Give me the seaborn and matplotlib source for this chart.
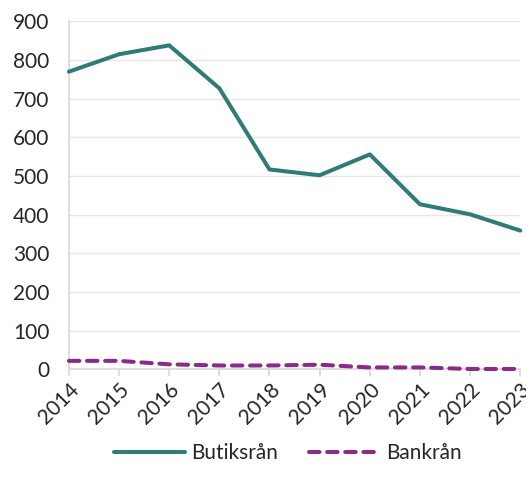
import matplotlib
matplotlib.use("Agg")
import matplotlib.pyplot as plt
import seaborn as sns
import pandas as pd

years = [2014, 2015, 2016, 2017, 2018, 2019, 2020, 2021, 2022, 2023]
butiksran = [770, 815, 838, 727, 517, 502, 556, 427, 401, 359]
bankran = [22, 22, 13, 10, 10, 12, 5, 5, 1, 1]

df = pd.DataFrame({
    "year": [str(y) for y in years] * 2,
    "antal": butiksran + bankran,
    "typ": ["Butiksrån"] * len(years) + ["Bankrån"] * len(years),
})

sns.set_theme(style="white")
plt.rcParams["font.family"] = ["Lato", "DejaVu Sans"]

fig = plt.figure(figsize=(5.26, 4.86), dpi=100)
ax = fig.add_axes([0.131, 0.240, 0.858, 0.716])

sns.lineplot(data=df, x="year", y="antal", hue="typ", style="typ",
             palette={"Butiksrån": "#2e7b78", "Bankrån": "#8a2b8a"},
             dashes={"Butiksrån": "", "Bankrån": (2.6, 1.9)},
             linewidth=2.9, ax=ax, sort=False)
for ln in ax.lines:
    ln.set_clip_on(False)
    ln.set_zorder(5)
    ln.set_dash_capstyle("round")

ax.set_ylim(0, 900)
ax.set_xlim(0, len(years) - 1)
ax.set_yticks(range(0, 901, 100))
ax.yaxis.grid(True, color="#e6e6e6", linewidth=1)
ax.set_axisbelow(True)
for s in ["top", "right"]:
    ax.spines[s].set_visible(False)
ax.spines["left"].set_color("#d9d9d9")
ax.spines["bottom"].set_color("#d9d9d9")
ax.tick_params(axis="x", bottom=True, length=5, color="#d9d9d9", labelsize=15, pad=2)
ax.tick_params(axis="y", left=False, labelsize=15, pad=8)
plt.setp(ax.get_xticklabels(), rotation=45, ha="right", rotation_mode="anchor")
ax.set_xlabel("")
ax.set_ylabel("")

handles, labels = ax.get_legend_handles_labels()
leg = ax.legend(handles, labels, loc="center", bbox_to_anchor=(0.486, -0.24), ncol=2,
                frameon=False, fontsize=15, handlelength=3.4, columnspacing=1.5,
                handletextpad=0.3)
for h in leg.get_lines():
    h.set_linewidth(2.9)
    h.set_dash_capstyle("round")

fig.savefig("out.png", dpi=100)
